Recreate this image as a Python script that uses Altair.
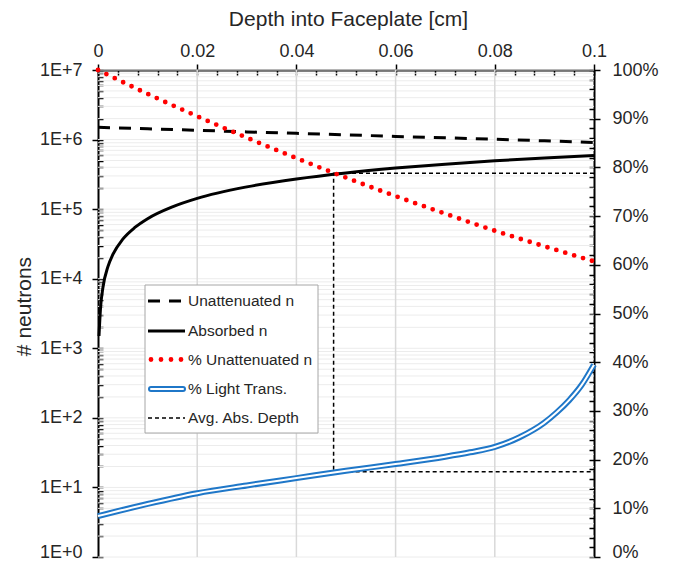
import altair as alt
import pandas as pd

# ---------------- data ----------------
depth = [0.0, 0.01, 0.02, 0.03, 0.04, 0.05, 0.06, 0.07, 0.08, 0.09, 0.1]
unattenuated_n = [1.50e6, 1.43e6, 1.36e6, 1.29e6, 1.23e6, 1.17e6, 1.11e6, 1.06e6, 1.01e6, 0.96e6, 0.91e6]
pct_unattenuated = [1.0, 0.951, 0.905, 0.861, 0.819, 0.779, 0.741, 0.705, 0.670, 0.638, 0.607]

abs_depth = [0.0002, 0.0005, 0.001, 0.002, 0.003, 0.005, 0.0075, 0.01, 0.015, 0.02,
             0.03, 0.04, 0.05, 0.06, 0.07, 0.08, 0.09, 0.1]
absorbed_n = [1500, 3700, 7500, 14900, 22300, 37000, 55000, 73000, 108000, 143000,
              209000, 272000, 332000, 389000, 443000, 495000, 544000, 590000]

light_depth = [0.0, 0.01, 0.02, 0.03, 0.04, 0.05, 0.06, 0.07, 0.075, 0.08, 0.085,
               0.09, 0.0925, 0.095, 0.0975, 0.1]
light_trans = [0.084, 0.109, 0.131, 0.147, 0.162, 0.177, 0.191, 0.206, 0.215, 0.226, 0.246,
               0.276, 0.297, 0.322, 0.353, 0.395]

avg_depth = [0.1, 0.0475, 0.0475, 0.1]
avg_pct = [0.788, 0.788, 0.175, 0.175]

x_ticks = [0.0, 0.02, 0.04, 0.06, 0.08, 0.1]
x_minor = [round(i * 0.004, 4) for i in range(26)]
log_major = [1, 10, 100, 1e3, 1e4, 1e5, 1e6, 1e7]
log_minor = [m * 10 ** k for k in range(7) for m in range(1, 10)] + [1e7]
pct_major = [round(i * 0.1, 2) for i in range(11)]
pct_minor = [round(i * 0.02, 2) for i in range(51)]

legend_labels = ["Unattenuated n", "Absorbed n", "% Unattenuated n", "% Light Trans.", "Avg. Abs. Depth"]

# ---------------- scales ----------------
XS = alt.Scale(domain=[0, 0.1], nice=False, zero=False)
YL = alt.Scale(type="log", domain=[1, 1e7], nice=False)
YP = alt.Scale(domain=[0, 1], nice=False, zero=False)

TXT = "#262626"
FONT = "Liberation Sans"

df_unatt = pd.DataFrame({"x": depth, "y": unattenuated_n})
df_pct = pd.DataFrame({"x": depth, "y": pct_unattenuated})
df_abs = pd.DataFrame({"x": abs_depth, "y": absorbed_n})
df_light = pd.DataFrame({"x": light_depth, "y": light_trans})
df_avg = pd.DataFrame({"x": avg_depth, "y": avg_pct, "i": list(range(len(avg_depth)))})

# ---------------- grid ----------------
grid_h = alt.Chart(pd.DataFrame({"v": log_minor})).mark_rule(color="#ececec", strokeWidth=1).encode(
    y=alt.Y("v:Q", scale=YL, axis=None))
grid_v = alt.Chart(pd.DataFrame({"v": x_ticks[1:-1]})).mark_rule(color="#d9d9d9", strokeWidth=1.5).encode(
    x=alt.X("v:Q", scale=XS, axis=None))

# ---------------- axes (invisible carriers) ----------------
def ax_y(values, scale, axis):
    return alt.Chart(pd.DataFrame({"v": values})).mark_rule(opacity=0).encode(
        y=alt.Y("v:Q", scale=scale, axis=axis))

def ax_x(values, axis):
    return alt.Chart(pd.DataFrame({"v": values})).mark_rule(opacity=0).encode(
        x=alt.X("v:Q", scale=XS, axis=axis))

common = dict(domainColor="black", tickColor="black", tickWidth=1.5, domainWidth=2,
              labelFont=FONT, labelFontSize=18, labelColor=TXT, labelFlush=False,
              labelOverlap=False, grid=False, titleFont=FONT, titleFontSize=21,
              titleColor=TXT, titleFontWeight="normal")
inner = dict(domain=False, labels=False, grid=False, tickColor="black", tickWidth=1.5,
             tickSize=5, offset=-5, title=None)

ax_left = ax_y(log_major, YL, alt.Axis(
    orient="left", values=log_major, tickSize=6, labelPadding=10,
    labelExpr="'1E+' + round(log(datum.value) / LN10)",
    labelOffset={"condition": {"test": "datum.value <= 1", "value": -5}, "value": 0},
    title="# neutrons", titleAngle=-90, titleX=-74, titleY=236,
    titleAlign="center", titleBaseline="middle", **common))
ax_left_in = ax_y(log_minor, YL, alt.Axis(orient="left", values=log_minor, **inner))

ax_right = ax_y(pct_major, YP, alt.Axis(
    orient="right", values=pct_major, format=".0%", tickSize=6, labelPadding=12,
    labelOffset={"condition": {"test": "datum.value <= 0.001", "value": -5}, "value": 0},
    title=None, **common))
ax_right_in = ax_y(pct_minor, YP, alt.Axis(orient="right", values=pct_minor, **inner))

ax_top = ax_x(x_ticks, alt.Axis(
    orient="top", values=x_ticks, format=".2~f", tickSize=6, labelPadding=4,
    title="Depth into Faceplate [cm]", titleX=250, titleY=-51,
    titleAlign="center", titleBaseline="middle", **common))
ax_top_in = ax_x(x_minor, alt.Axis(orient="top", values=x_minor, **inner))

# ---------------- series ----------------
l_unatt = alt.Chart(df_unatt).mark_line(color="black", strokeWidth=3, strokeDash=[12, 9]).encode(
    x=alt.X("x:Q", scale=XS, axis=None), y=alt.Y("y:Q", scale=YL, axis=None))
l_abs = alt.Chart(df_abs).mark_line(color="black", strokeWidth=3, interpolate="monotone").encode(
    x=alt.X("x:Q", scale=XS, axis=None), y=alt.Y("y:Q", scale=YL, axis=None))
l_pct = alt.Chart(df_pct).mark_line(color="#ff0000", strokeWidth=4.8, strokeDash=[0, 9.3],
                                    strokeCap="round", interpolate="monotone").encode(
    x=alt.X("x:Q", scale=XS, axis=None), y=alt.Y("y:Q", scale=YP, axis=None))
l_light_o = alt.Chart(df_light).mark_line(color="#1f77c8", strokeWidth=6, interpolate="monotone").encode(
    x=alt.X("x:Q", scale=XS, axis=None), y=alt.Y("y:Q", scale=YP, axis=None))
l_light_i = alt.Chart(df_light).mark_line(color="white", strokeWidth=2, interpolate="monotone").encode(
    x=alt.X("x:Q", scale=XS, axis=None), y=alt.Y("y:Q", scale=YP, axis=None))
l_avg = alt.Chart(df_avg).mark_line(color="black", strokeWidth=1.5, strokeDash=[4, 3]).encode(
    x=alt.X("x:Q", scale=XS, axis=None), y=alt.Y("y:Q", scale=YP, axis=None),
    order=alt.Order("i:Q"))

# ---------------- legend (layout in pixels, relative to plot area) ----------------
one = pd.DataFrame({"a": [0]})
leg_y = [231, 261, 289.5, 319, 348]
leg_box = alt.Chart(one).mark_rect(fill="white", stroke="#a6a6a6", strokeWidth=1).encode(
    x=alt.value(47), x2=alt.value(220), y=alt.value(215), y2=alt.value(363))
leg_items = [
    alt.Chart(one).mark_rule(color="black", strokeWidth=3, strokeDash=[12, 9]).encode(
        x=alt.value(50), x2=alt.value(87), y=alt.value(leg_y[0])),
    alt.Chart(one).mark_rule(color="black", strokeWidth=3).encode(
        x=alt.value(50), x2=alt.value(87), y=alt.value(leg_y[1])),
    alt.Chart(one).mark_rule(color="#ff0000", strokeWidth=4.8, strokeDash=[0, 10], strokeCap="round").encode(
        x=alt.value(53), x2=alt.value(87), y=alt.value(leg_y[2])),
    alt.Chart(one).mark_rule(color="#1f77c8", strokeWidth=6, strokeCap="round").encode(
        x=alt.value(53), x2=alt.value(85), y=alt.value(leg_y[3])),
    alt.Chart(one).mark_rule(color="white", strokeWidth=2, strokeCap="round").encode(
        x=alt.value(53), x2=alt.value(85), y=alt.value(leg_y[3])),
    alt.Chart(one).mark_rule(color="black", strokeWidth=1.5, strokeDash=[4, 3]).encode(
        x=alt.value(50), x2=alt.value(87), y=alt.value(leg_y[4])),
]
leg_text = [
    alt.Chart(one).mark_text(align="left", baseline="middle", fontSize=15.5, font=FONT, color=TXT).encode(
        x=alt.value(90), y=alt.value(yy), text=alt.value(lab))
    for yy, lab in zip(leg_y, legend_labels)
]

chart = alt.layer(
    grid_h, grid_v,
    ax_left, ax_left_in, ax_right, ax_right_in, ax_top, ax_top_in,
    l_unatt, l_abs, l_avg, l_pct, l_light_o, l_light_i,
    leg_box, *leg_items, *leg_text,
).resolve_scale(x="independent", y="independent").properties(
    width=496, height=487,
    autosize=alt.AutoSizeParams(type="none"),
    padding={"left": 90, "top": 62, "right": 83, "bottom": 5},
).configure_view(stroke=None)

chart.save("out.html", embed_options={"renderer": "svg", "actions": False})
